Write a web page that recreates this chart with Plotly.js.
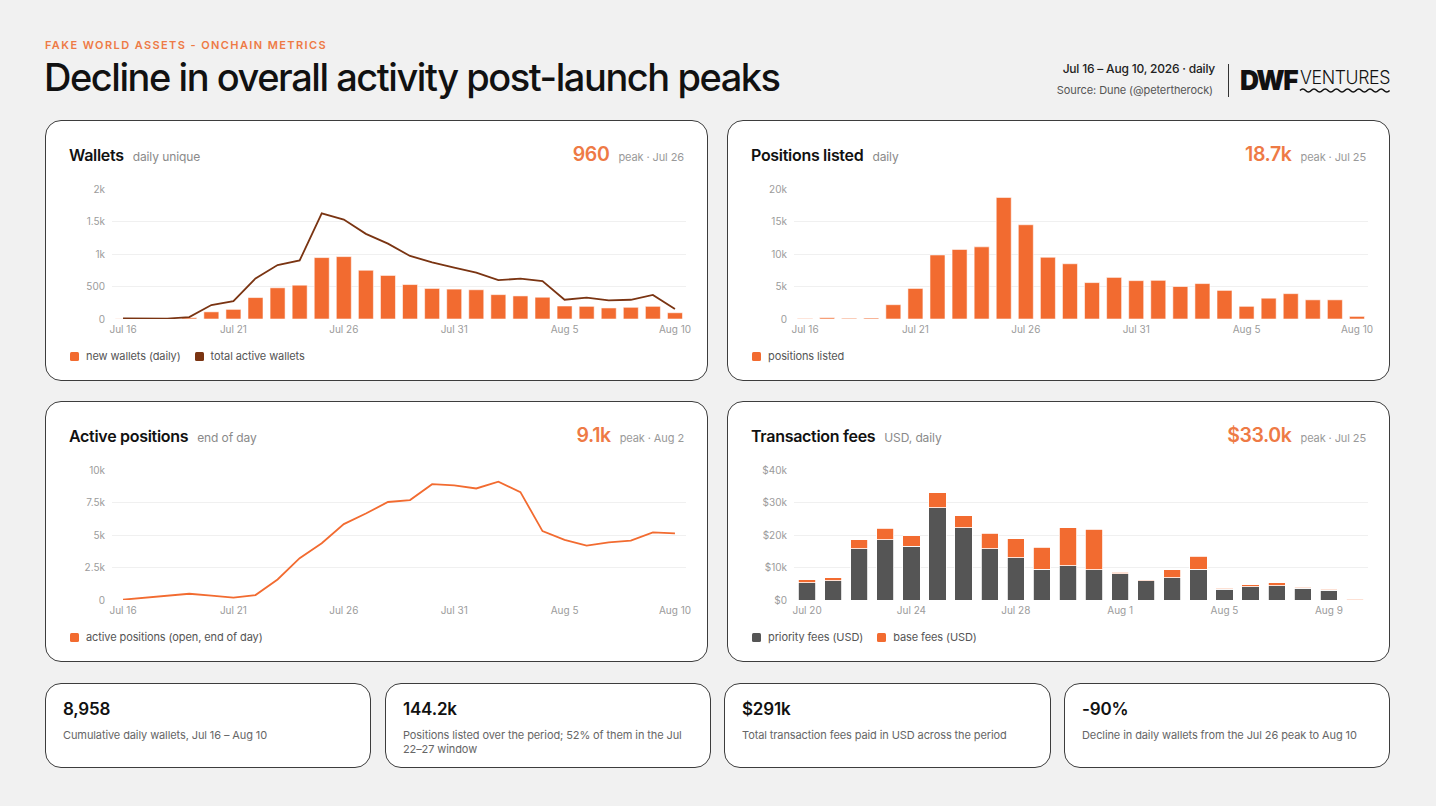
<!DOCTYPE html>
<html>
<head>
<meta charset="utf-8">
<script src="https://cdn.plot.ly/plotly-3.0.1.min.js"></script>
<style>
  html, body { margin:0; padding:0; }
  body { width:1436px; height:806px; background:#f1f1f1; position:relative; overflow:hidden;
         font-family: Inter, "Noto Sans", sans-serif; color:#111; }
  .abs { position:absolute; line-height:1; white-space:nowrap; }
  .eyebrow { left:45px; top:40px; font-size:11px; font-weight:600; letter-spacing:1.4px; color:#EE7A45; }
  .title { left:44px; top:58px; font-size:38px; font-weight:500; letter-spacing:-1.45px; color:#111; }
  .meta1 { right:221px; top:63px; font-size:12px; font-weight:500; color:#222; letter-spacing:-0.2px; }
  .meta2 { right:223px; top:85px; font-size:11px; color:#555; letter-spacing:-0.1px; }
  .divider { left:1228px; top:64px; width:1px; height:33px; background:#333; }
  .card { position:absolute; background:#fff; border:1px solid #3d3d3d; border-radius:16px; box-sizing:border-box; }
  .chart { position:absolute; left:0; top:0; width:663px; height:261px; }
  .head { position:absolute; left:23px; top:26px; display:flex; align-items:baseline; gap:9px; line-height:1; }
  .head .t { font-size:16px; font-weight:600; color:#111; letter-spacing:-0.3px; }
  .head .s { font-size:12px; color:#8a8a8a; letter-spacing:-0.1px; }
  .peak { position:absolute; right:23px; top:24px; display:flex; align-items:baseline; gap:9px; line-height:1; }
  .peak .n { font-size:19.5px; font-weight:600; color:#EE7A45; letter-spacing:-0.4px; }
  .peak .p { font-size:11px; color:#999; letter-spacing:-0.1px; }
  .legend { position:absolute; left:24px; top:230px; display:flex; align-items:center; line-height:1; font-size:11px; color:#555; letter-spacing:-0.1px; }
  .legend .sw { width:9px; height:9px; border-radius:1.5px; margin-right:7px; }
  .legend .item { display:flex; align-items:center; margin-right:14px; }
  .stat .num { position:absolute; left:17px; top:17px; font-size:17px; font-weight:600; color:#111; line-height:1; letter-spacing:-0.2px; }
  .stat .desc { position:absolute; left:17px; top:44px; width:300px; font-size:11px; color:#666; line-height:14px; letter-spacing:-0.1px; }
</style>
</head>
<body>

<div class="abs eyebrow">FAKE WORLD ASSETS - ONCHAIN METRICS</div>
<div class="abs title">Decline in overall activity post-launch peaks</div>
<div class="abs meta1">Jul 16 – Aug 10, 2026 · daily</div>
<div class="abs meta2">Source: Dune (@petertherock)</div>
<div class="abs divider"></div>
<svg class="abs" style="left:1238px; top:62px;" width="160" height="38" viewBox="0 0 160 38">
  <text x="2" y="28" font-family="Inter, sans-serif" font-size="27" font-weight="900" letter-spacing="-1.6" fill="#111" textLength="57" lengthAdjust="spacingAndGlyphs">DWF</text>
  <text x="62" y="22" font-family="Inter, sans-serif" font-size="18" font-weight="300" letter-spacing="-0.4" fill="#111" textLength="90" lengthAdjust="spacingAndGlyphs">VENTURES</text>
  <path d="M62 28.5 q2.8 -3 5.6 0 t5.6 0 t5.6 0 t5.6 0 t5.6 0 t5.6 0 t5.6 0 t5.6 0 t5.6 0 t5.6 0 t5.6 0 t5.6 0 t5.6 0 t5.6 0 t5.6 0 t5.6 0" fill="none" stroke="#111" stroke-width="1.6"/>
</svg>

<!-- Card 1: Wallets -->
<div class="card" style="left:45px; top:120px; width:663px; height:261px;">
  <div id="c1" class="chart"></div>
  <div class="head"><span class="t">Wallets</span><span class="s">daily unique</span></div>
  <div class="peak"><span class="n">960</span><span class="p">peak · Jul 26</span></div>
  <div class="legend">
    <div class="item"><div class="sw" style="background:#F26B30"></div>new wallets (daily)</div>
    <div class="item"><div class="sw" style="background:#7A3412"></div>total active wallets</div>
  </div>
</div>

<!-- Card 2: Positions listed -->
<div class="card" style="left:727px; top:120px; width:663px; height:261px;">
  <div id="c2" class="chart"></div>
  <div class="head"><span class="t">Positions listed</span><span class="s">daily</span></div>
  <div class="peak"><span class="n">18.7k</span><span class="p">peak · Jul 25</span></div>
  <div class="legend">
    <div class="item"><div class="sw" style="background:#F26B30"></div>positions listed</div>
  </div>
</div>

<!-- Card 3: Active positions -->
<div class="card" style="left:45px; top:401px; width:663px; height:261px;">
  <div id="c3" class="chart"></div>
  <div class="head"><span class="t">Active positions</span><span class="s">end of day</span></div>
  <div class="peak"><span class="n">9.1k</span><span class="p">peak · Aug 2</span></div>
  <div class="legend">
    <div class="item"><div class="sw" style="background:#F26B30"></div>active positions (open, end of day)</div>
  </div>
</div>

<!-- Card 4: Transaction fees -->
<div class="card" style="left:727px; top:401px; width:663px; height:261px;">
  <div id="c4" class="chart"></div>
  <div class="head"><span class="t">Transaction fees</span><span class="s">USD, daily</span></div>
  <div class="peak"><span class="n">$33.0k</span><span class="p">peak · Jul 25</span></div>
  <div class="legend">
    <div class="item"><div class="sw" style="background:#555555"></div>priority fees (USD)</div>
    <div class="item"><div class="sw" style="background:#F26B30"></div>base fees (USD)</div>
  </div>
</div>

<!-- Stat cards -->
<div class="card stat" style="left:45px; top:683px; width:326px; height:85px;">
  <div class="num">8,958</div>
  <div class="desc">Cumulative daily wallets, Jul 16 – Aug 10</div>
</div>
<div class="card stat" style="left:385px; top:683px; width:326px; height:85px;">
  <div class="num">144.2k</div>
  <div class="desc">Positions listed over the period; 52% of them in the Jul 22–27 window</div>
</div>
<div class="card stat" style="left:724px; top:683px; width:327px; height:85px;">
  <div class="num">$291k</div>
  <div class="desc">Total transaction fees paid in USD across the period</div>
</div>
<div class="card stat" style="left:1064px; top:683px; width:326px; height:85px;">
  <div class="num">-90%</div>
  <div class="desc">Decline in daily wallets from the Jul 26 peak to Aug 10</div>
</div>

<script>
// ---------- DATA ----------
const days = ['2026-07-16','2026-07-17','2026-07-18','2026-07-19','2026-07-20','2026-07-21','2026-07-22',
  '2026-07-23','2026-07-24','2026-07-25','2026-07-26','2026-07-27','2026-07-28','2026-07-29','2026-07-30',
  '2026-07-31','2026-08-01','2026-08-02','2026-08-03','2026-08-04','2026-08-05','2026-08-06','2026-08-07',
  '2026-08-08','2026-08-09','2026-08-10'];

const newWallets = [3, 12, 8, 20, 110, 148, 330, 480, 520, 945, 960, 750, 670, 530, 470, 460, 450, 375, 355, 335, 200, 195, 170, 180, 195, 96];
const totalActiveWallets = [10, 10, 6, 30, 215, 275, 625, 830, 900, 1625, 1530, 1310, 1160, 970, 872, 790, 715, 598, 620, 582, 296, 330, 286, 296, 370, 153];

const positionsListed = [80, 200, 120, 150, 2200, 4700, 9850, 10700, 11100, 18700, 14500, 9500, 8500, 5600, 6400, 5900, 5950, 5000, 5450, 4400, 1950, 3200, 3900, 2950, 2950, 400];

const activePositions = [25, 180, 330, 480, 330, 180, 380, 1580, 3220, 4370, 5840, 6650, 7540, 7690, 8910, 8810, 8580, 9100, 8300, 5300, 4620, 4190, 4440, 4570, 5200, 5130];

const feeDays = ['2026-07-20','2026-07-21','2026-07-22','2026-07-23','2026-07-24','2026-07-25','2026-07-26',
  '2026-07-27','2026-07-28','2026-07-29','2026-07-30','2026-07-31','2026-08-01','2026-08-02','2026-08-03',
  '2026-08-04','2026-08-05','2026-08-06','2026-08-07','2026-08-08','2026-08-09','2026-08-10'];
const priorityFees = [5300, 5900, 15700, 18500, 16500, 28400, 22200, 15700, 13000, 9500, 10600, 9300, 8100, 6000, 6900, 9500, 3350, 4150, 4450, 3650, 2950, 100];
const baseFees     = [900, 1000, 2800, 3650, 3300, 4600, 3700, 4800, 5800, 6800, 11700, 12500, 500, 300, 2450, 3900, 300, 500, 800, 300, 300, 250];

const tickDates = ['2026-07-16','2026-07-21','2026-07-26','2026-07-31','2026-08-05','2026-08-10'];
const tickLabels = ['Jul 16','Jul 21','Jul 26','Jul 31','Aug 5','Aug 10'];
const feeTickDates = ['2026-07-20','2026-07-24','2026-07-28','2026-08-01','2026-08-05','2026-08-09'];
const feeTickLabels = ['Jul 20','Jul 24','Jul 28','Aug 1','Aug 5','Aug 9'];

// ---------- STYLE ----------
const ORANGE = '#F26B30', BROWN = '#7A3412', GRAY = '#555555';
const FONT = 'Inter, "Noto Sans", sans-serif';

function baseLayout(xrange, tv, tt, yrange, dtick, prefix) {
  return {
    width: 663, height: 261,
    margin: {l: 66, r: 23, t: 68, b: 63, pad: 0},
    paper_bgcolor: 'rgba(0,0,0,0)', plot_bgcolor: 'rgba(0,0,0,0)',
    showlegend: false,
    font: {family: FONT, size: 10, color: '#9b9b9b'},
    bargap: 0.32,
    xaxis: {type: 'date', range: xrange, tickvals: tv, ticktext: tt, showgrid: false, zeroline: false,
            showline: false, ticks: '', ticklabelstandoff: 3, tickfont: {size: 10, color: '#9b9b9b'}, fixedrange: true},
    yaxis: {range: yrange, dtick: dtick, tickformat: '~s', tickprefix: prefix || '', showgrid: true,
            gridcolor: '#f0f0f0', gridwidth: 1, zeroline: false, showline: false, ticks: '',
            ticklabelstandoff: 6, tickfont: {size: 10, color: '#9b9b9b'}, fixedrange: true}
  };
}
const cfg = {staticPlot: true, displayModeBar: false};
const barLine = {color: 'rgba(255,255,255,0.7)', width: 0.8};

Plotly.newPlot('c1', [
  {type: 'bar', x: days, y: newWallets, name: 'new wallets (daily)', marker: {color: ORANGE, line: barLine}},
  {type: 'scatter', mode: 'lines', x: days, y: totalActiveWallets, name: 'total active wallets', line: {color: BROWN, width: 1.8}}
], baseLayout(['2026-07-15 12:00', '2026-08-10 12:00'], tickDates, tickLabels, [0, 2000], 500), cfg);

Plotly.newPlot('c2', [
  {type: 'bar', x: days, y: positionsListed, name: 'positions listed', marker: {color: ORANGE, line: barLine}}
], baseLayout(['2026-07-15 12:00', '2026-08-10 12:00'], tickDates, tickLabels, [0, 20000], 5000), cfg);

Plotly.newPlot('c3', [
  {type: 'scatter', mode: 'lines', x: days, y: activePositions, name: 'active positions (open, end of day)', line: {color: ORANGE, width: 1.8}}
], baseLayout(['2026-07-15 12:00', '2026-08-10 12:00'], tickDates, tickLabels, [0, 10000], 2500), cfg);

const l4 = baseLayout(['2026-07-19 12:00', '2026-08-10 12:00'], feeTickDates, feeTickLabels, [0, 40000], 10000, '$');
l4.barmode = 'stack';
l4.bargap = 0.34;
Plotly.newPlot('c4', [
  {type: 'bar', x: feeDays, y: priorityFees, name: 'priority fees (USD)', marker: {color: GRAY, line: {color: '#ffffff', width: 0.8}}},
  {type: 'bar', x: feeDays, y: baseFees, name: 'base fees (USD)', marker: {color: ORANGE, line: {color: '#ffffff', width: 0.8}}}
], l4, cfg);
</script>
</body>
</html>
